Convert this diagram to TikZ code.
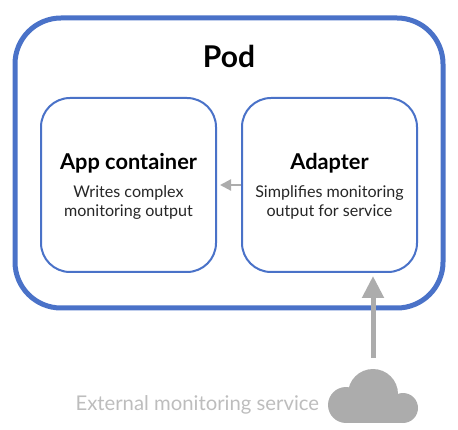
\documentclass[tikz,border=0pt]{standalone}
\usepackage{fontspec}
\setmainfont{Lato}
\usetikzlibrary{arrows.meta}
\definecolor{podblue}{HTML}{4A72C8}
\definecolor{cgray}{HTML}{ACACAC}
\definecolor{lblgray}{HTML}{BDBDBD}
\tikzset{
  podbox/.style={draw=podblue,line width=5pt,rounded corners=46pt,minimum width=428pt,minimum height=290pt,inner sep=0pt},
  cbox/.style={draw=podblue,line width=2pt,rounded corners=29pt,minimum width=175pt,minimum height=174pt,inner sep=0pt},
  podtitle/.style={font=\fontsize{30}{34}\selectfont\bfseries,text=black},
  ctitle/.style={font=\fontsize{21.8}{25}\selectfont\bfseries,text=black},
  csub/.style={font=\fontsize{16.1}{19}\selectfont,align=center,text=black!85},
  bigarrow/.style={draw=cgray,line width=5pt,-{Triangle[length=22pt,width=21pt]}},
  smallarrow/.style={draw=cgray,line width=2.2pt,-{Triangle[length=11pt,width=11pt]}},
  extlabel/.style={font=\fontsize{20.3}{24}\selectfont,text=lblgray}
}
\begin{document}
\begin{tikzpicture}[x=1pt,y=-1pt]
\useasboundingbox (0,0) rectangle (458,430);
\node[podbox] (pod) at (229,163) {};
\node[podtitle] (podt) at (229,56) {Pod};
\node[cbox] (app) at (128.5,185) {};
\node[cbox] (adapter) at (329.5,185) {};
\node[ctitle] (appt) at (128.5,163.5) {App container};
\node[csub] (apps) at (128.5,202.5) {Writes complex\\monitoring output};
\node[ctitle] (adat) at (329.5,163.5) {Adapter};
\node[csub] (adas) at (329.5,202.5) {Simplifies monitoring\\output for service};
% cloud
\fill[cgray] (373,394) circle (25) (346,405) circle (18) (403,408) circle (15);
\fill[cgray] (346,394) rectangle (403,423);
\coordinate (cloudtop) at (373,358);
\draw[smallarrow] (adapter.west) -- ([xshift=3pt]app.east);
\draw[bigarrow] (cloudtop) -- ([yshift=-3pt]adapter.south -| cloudtop);
\node[extlabel,anchor=west] (ext) at (72,405) {External monitoring service};
\end{tikzpicture}
\end{document}
